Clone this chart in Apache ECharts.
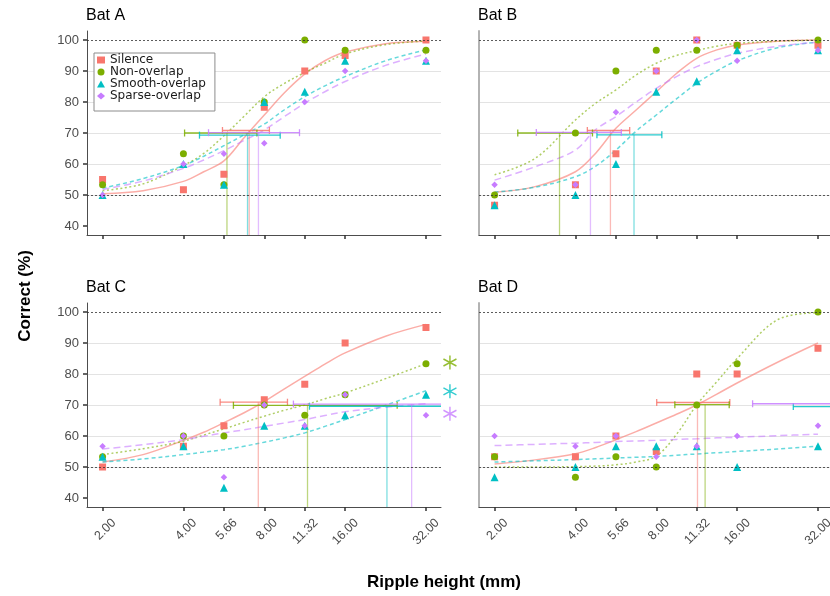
<!DOCTYPE html>
<html><head><meta charset="utf-8">
<script src="https://cdn.jsdelivr.net/npm/echarts@6.0.0/dist/echarts.min.js"></script>
<style>html,body{margin:0;padding:0;background:#fff}#c{width:830px;height:596px}</style>
</head><body><div id="c"></div>
<script>
// ---------- DATA ----------
const conditions = ['Silence', 'Non-overlap', 'Smooth-overlap', 'Sparse-overlap'];
const panels = ['Bat A', 'Bat B', 'Bat C', 'Bat D'];
const heights = [2, 4, 5.66, 8, 11.32, 16, 32];
const tickLabels = ['2.00', '4.00', '5.66', '8.00', '11.32', '16.00', '32.00'];
const yTicks = [40, 50, 60, 70, 80, 90, 100];
const curveX = [2, 2.83, 4, 4.76, 5.66, 6.73, 8, 9.51, 11.31, 13.45, 16, 22.63, 32];

// Bat A observed (% correct)
const A_silence = [55, 51.7, 56.7, 78.3, 90, 95, 100];
const A_nonOverlap = [53.3, 63.3, 53.3, 80, 100, 96.7, 96.7];
const A_smooth = [50, 60, 53.3, 80, 83.3, 93.3, 93.3];
const A_sparse = [50, 60, 63.3, 66.7, 80, 90, 93.3];
// Bat A fitted curves (at curveX)
const A_fitSilence = [50.4, 51.4, 54.4, 57.5, 61, 68.5, 75.8, 83, 89, 93.3, 96.1, 98.8, 99.6];
const A_fitNonOverlap = [51.4, 53.6, 59.5, 63.4, 69.1, 75.4, 81.7, 86, 89.5, 92.5, 95.5, 98.5, 99.7];
const A_fitSmooth = [52.2, 55.3, 59.5, 62.5, 65.9, 69.4, 72.9, 77.5, 81.7, 85.2, 88.2, 93.3, 96.8];
const A_fitSparse = [51.8, 54.5, 58.6, 61.3, 64.3, 67.6, 71, 75.3, 79.6, 83.3, 86.6, 91.8, 95.5];
// Bat A thresholds: [CI low, CI high, level, threshold]
const A_thrSilence = [5.59, 8.36, 70.8, 7.03];
const A_thrNonOverlap = [4.04, 7.51, 70, 5.81];
const A_thrSmooth = [4.59, 9.17, 69.3, 6.93];
const A_thrSparse = [4.96, 10.82, 70.1, 7.61];

// Bat B
const B_silence = [46.7, 53.3, 63.3, 90, 100, 98.3, 98.3];
const B_nonOverlap = [50, 70, 90, 96.7, 96.7, 98.3, 100];
const B_smooth = [46.7, 50, 60, 83.3, 86.7, 96.7, 96.7];
const B_sparse = [53.3, 53.3, 76.7, 90, 100, 93.3, 96.7];
const B_fitSilence = [50.9, 52.7, 57.5, 63.5, 71.5, 77.4, 83.3, 89.2, 94.1, 96.8, 98.4, 99.6, 100];
const B_fitNonOverlap = [56.5, 61.8, 74.2, 79.6, 83.9, 88.7, 92.5, 95, 96.6, 98, 98.9, 99.6, 100];
const B_fitSmooth = [50.9, 52.5, 55.9, 59.3, 64.5, 70.6, 75.8, 81, 86, 90, 93.3, 97.5, 99.3];
const B_fitSparse = [54.8, 59.1, 64.5, 71.1, 75.3, 80, 84.4, 88.2, 91.4, 93.8, 95.7, 98, 99.3];
const B_thrSilence = [4.43, 6.37, 70.8, 5.40];
const B_thrNonOverlap = [2.44, 4.63, 70, 3.49];
const B_thrSmooth = [4.81, 8.39, 69.4, 6.61];
const B_thrSparse = [2.86, 5.93, 70.2, 4.55];

// Bat C
const C_silence = [50, 56.7, 63.3, 71.7, 76.7, 90, 95];
const C_nonOverlap = [53.3, 60, 60, 70, 66.7, 73.3, 83.3];
const C_smooth = [53.3, 56.7, 43.3, 63.3, 63.3, 66.7, 73.3];
const C_sparse = [56.7, 60, 46.7, 70, 63.3, 73.3, 66.7];
const C_fitSilence = [51.6, 54, 58.6, 61.2, 64.3, 67.5, 71.1, 75.2, 79.2, 83.2, 86.8, 92.2, 96];
const C_fitNonOverlap = [54, 55.9, 58.3, 60.3, 62.3, 64.4, 66.4, 68.3, 70, 72, 73.9, 78.5, 83.3];
const C_fitSmooth = [51.6, 52.6, 54, 54.8, 55.6, 56.7, 58, 59.4, 61, 63.1, 65.3, 69.9, 74.6];
const C_fitSparse = [55.8, 57.2, 58.8, 59.9, 61, 62, 63.1, 64.2, 65.3, 66.6, 67.8, 69.3, 70.4];
const C_thrSilence = [5.48, 9.76, 70.9, 7.6];
const C_thrNonOverlap = [6.14, 25.0, 69.9, 11.59];
const C_thrSmooth = [11.79, null, 69.6, 22.9];
const C_thrSparse = [10.27, null, 70.3, 28.3];
// significance asterisks (Bat C, right margin)
const C_asteriskX = 39.3;
const C_asteriskY = [83.7, 74.4, 67.2];   // Non-overlap, Smooth-overlap, Sparse-overlap

// Bat D
const D_silence = [53.3, 53.3, 60, 55, 80, 80, 88.3];
const D_nonOverlap = [53.3, 46.7, 53.3, 50, 70, 83.3, 100];
const D_smooth = [46.7, 50, 56.7, 56.7, 56.7, 50, 56.7];
const D_sparse = [60, 56.7, 60, 53.3, 56.7, 60, 63.3];
const D_fitSilence = [51, 52.3, 54.3, 56.3, 58.8, 61.4, 64.2, 67, 70, 73.5, 77.1, 83.8, 90];
const D_fitNonOverlap = [50, 50, 50.1, 50.3, 50.7, 51.6, 53.5, 60.5, 70, 77.5, 85, 97.5, 99.8];
const D_fitSmooth = [51.6, 52, 52.4, 52.65, 52.9, 53.15, 53.4, 53.8, 54.2, 54.6, 55, 55.8, 56.7];
const D_fitSparse = [56.9, 57.3, 57.7, 57.9, 58.2, 58.4, 58.6, 58.9, 59.1, 59.4, 59.6, 60.1, 60.6];
const D_thrSilence = [8.03, 15.03, 70.8, 11.39];
const D_thrNonOverlap = [9.38, 14.95, 70.1, 12.16];
const D_thrSmooth = [25.9, null, 69.5, null];
const D_thrSparse = [18.27, null, 70.4, null];

// ---------- STYLE ----------
const colors = ['#F8766D', '#7CAE00', '#00BFC4', '#C77CFF'];
const symbols = ['rect', 'circle', 'triangle', 'diamond'];
const symbolSizes = [7, 7, 8, 6.5];
const dashes = ['solid', [2, 2.5], [4, 3], [7, 4]];
const FONT = '"Liberation Sans", Arial, sans-serif';

const pointSets = [
  [A_silence, A_nonOverlap, A_smooth, A_sparse],
  [B_silence, B_nonOverlap, B_smooth, B_sparse],
  [C_silence, C_nonOverlap, C_smooth, C_sparse],
  [D_silence, D_nonOverlap, D_smooth, D_sparse]
];
const fitSets = [
  [A_fitSilence, A_fitNonOverlap, A_fitSmooth, A_fitSparse],
  [B_fitSilence, B_fitNonOverlap, B_fitSmooth, B_fitSparse],
  [C_fitSilence, C_fitNonOverlap, C_fitSmooth, C_fitSparse],
  [D_fitSilence, D_fitNonOverlap, D_fitSmooth, D_fitSparse]
];
const thrSets = [
  [A_thrSilence, A_thrNonOverlap, A_thrSmooth, A_thrSparse],
  [B_thrSilence, B_thrNonOverlap, B_thrSmooth, B_thrSparse],
  [C_thrSilence, C_thrNonOverlap, C_thrSmooth, C_thrSparse],
  [D_thrSilence, D_thrNonOverlap, D_thrSmooth, D_thrSparse]
];

const gridPos = [
  {left: 87, top: 31}, {left: 479, top: 31},
  {left: 87, top: 303}, {left: 479, top: 303}
];
const GW = 354, GH = 204;

function fmtTick(v) {
  let best = 0, bd = Infinity;
  heights.forEach((h, i) => { const d = Math.abs(Math.log(v) - Math.log(h)); if (d < bd) { bd = d; best = i; } });
  // leading empty line pushes the rotated label down-right, like ggplot's hjust/vjust = 1
  return '\n' + tickLabels[best];
}

function isNum(v) { return typeof v === 'number' && isFinite(v) && v > 0; }

function renderErr(params, api) {
  const cs = params.coordSys;
  const L = cs.x, R = cs.x + cs.width, B = cs.y + cs.height;
  const lo = api.value(0), hi = api.value(1), yv = api.value(2), thr = api.value(3);
  const color = api.visual('color');
  const pLo = api.coord([lo, yv]);
  const yPix = pLo[1];
  const xLo = pLo[0];
  const hasHi = isNum(hi);
  const xHi = hasHi ? api.coord([hi, yv])[0] : R;
  const cl = v => Math.max(L, Math.min(R, v));
  const cap = 3.5;
  const st = {stroke: color, lineWidth: 1.3, opacity: 0.85};
  const children = [];
  if (isNum(thr)) {
    const xt = api.coord([thr, yv])[0];
    if (xt >= L && xt <= R) {
      children.push({type: 'line', shape: {x1: xt, y1: yPix, x2: xt, y2: B},
        style: {stroke: color, lineWidth: 1.3, opacity: 0.5}});
    }
  }
  children.push({type: 'line', shape: {x1: cl(xLo), y1: yPix, x2: cl(xHi), y2: yPix}, style: st});
  if (xLo >= L && xLo <= R) children.push({type: 'line', shape: {x1: xLo, y1: yPix - cap, x2: xLo, y2: yPix + cap}, style: st});
  if (hasHi && xHi >= L && xHi <= R) children.push({type: 'line', shape: {x1: xHi, y1: yPix - cap, x2: xHi, y2: yPix + cap}, style: st});
  return {type: 'group', children: children};
}

const grids = [], xAxes = [], yAxes = [], series = [], titles = [];
for (let p = 0; p < 4; p++) {
  const leftCol = (p % 2 === 0);
  grids.push({left: gridPos[p].left, top: gridPos[p].top, width: GW, height: GH,
    containLabel: false, outerBoundsMode: 'none'});
  titles.push({text: panels[p], left: gridPos[p].left - 1, top: gridPos[p].top - 23, padding: 0,
    textStyle: {fontSize: 16, fontWeight: 'normal', color: '#000', fontFamily: FONT}});
  xAxes.push({
    gridIndex: p, type: 'log', logBase: 2, min: 1.75, max: 36.4,
    axisLine: {show: true, onZero: false, lineStyle: {color: '#4d4d4d', width: 1}},
    axisTick: {show: true, customValues: heights, length: 4, lineStyle: {color: '#333', width: 1.5}},
    axisLabel: {show: p >= 2, customValues: heights, rotate: 45, formatter: fmtTick, fontSize: 12.5,
      lineHeight: 32, color: '#4d4d4d', fontFamily: FONT, margin: 2.5},
    splitLine: {show: false}, minorTick: {show: false}, minorSplitLine: {show: false}
  });
  yAxes.push({
    gridIndex: p, type: 'value', min: 37.1, max: 102.9,
    axisLine: {show: true, lineStyle: {color: leftCol ? '#4d4d4d' : '#b3b3b3', width: leftCol ? 1 : 2}},
    axisTick: {show: leftCol, customValues: yTicks, length: 4, lineStyle: {color: '#333', width: 1.5}},
    axisLabel: {show: leftCol, customValues: yTicks, fontSize: 13, color: '#4d4d4d', fontFamily: FONT, margin: 8},
    splitLine: {show: true, showMinLine: false, showMaxLine: false, lineStyle: {color: '#e3e3e3', width: 1.2}}
  });
  // fitted curves
  for (let k = 0; k < 4; k++) {
    const s = {
      name: conditions[k] + ' fit ' + p, type: 'line', xAxisIndex: p, yAxisIndex: p,
      data: curveX.map((x, i) => [x, fitSets[p][k][i]]),
      smooth: 0.35, showSymbol: false, silent: true, z: 2,
      lineStyle: {color: colors[k], width: 1.5, type: dashes[k], opacity: 0.6}
    };
    if (k === 0) {
      s.markLine = {silent: true, symbol: 'none', label: {show: false},
        lineStyle: {color: '#333', type: [2, 2], width: 0.8},
        data: [{yAxis: 50}, {yAxis: 100}]};
    }
    series.push(s);
  }
  // threshold bars
  series.push({
    name: 'thr ' + p, type: 'custom', xAxisIndex: p, yAxisIndex: p, z: 3, silent: true,
    renderItem: renderErr, encode: {x: [0, 1, 3], y: 2},
    data: thrSets[p].map((t, k) => ({value: t.map(v => v == null ? '-' : v), itemStyle: {color: colors[k]}}))
  });
}
// observed points (drawn above lines)
for (let p = 0; p < 4; p++) {
  for (let k = 0; k < 4; k++) {
    series.push({
      name: conditions[k], type: 'scatter', xAxisIndex: p, yAxisIndex: p, z: 4,
      symbol: symbols[k], symbolSize: symbolSizes[k],
      itemStyle: {color: colors[k], opacity: 1},
      data: heights.map((h, i) => [h, pointSets[p][k][i]])
    });
  }
}
// asterisks for Bat C
series.push({
  name: 'sig', type: 'scatter', xAxisIndex: 2, yAxisIndex: 2, z: 5, clip: false, silent: true,
  symbol: 'path://M6,0 L6,12 M0.8,3 L11.2,9 M0.8,9 L11.2,3', symbolSize: [13, 14],
  data: C_asteriskY.map((y, i) => ({value: [C_asteriskX, y],
    itemStyle: {color: 'rgba(0,0,0,0)', borderColor: colors[i + 1], borderWidth: 1.5}}))
});

const option = {
  animation: false,
  backgroundColor: '#fff',
  textStyle: {fontFamily: FONT},
  title: titles,
  grid: grids,
  xAxis: xAxes,
  yAxis: yAxes,
  legend: {
    data: conditions, left: 94, top: 53, orient: 'vertical', itemGap: 0,
    itemWidth: 8, itemHeight: 7, padding: [1, 9, 9, 3], borderColor: '#8c8c8c', borderWidth: 1,
    backgroundColor: '#fff', selectedMode: false, z: 10,
    textStyle: {fontSize: 12, color: '#1a1a1a', fontFamily: '"DejaVu Sans", sans-serif', lineHeight: 11.8}
  },
  graphic: [
    {type: 'text', x: 25, y: 296, rotation: Math.PI / 2, silent: true,
      style: {text: 'Correct (%)', fill: '#000', font: 'bold 17px ' + FONT, textAlign: 'center', textVerticalAlign: 'middle'}},
    {type: 'text', x: 444, y: 582, silent: true,
      style: {text: 'Ripple height (mm)', fill: '#000', font: 'bold 17px ' + FONT, textAlign: 'center', textVerticalAlign: 'middle'}}
  ],
  series: series
};
const chart = echarts.init(document.getElementById('c'), null, {renderer: 'canvas'});
chart.setOption(option);
</script></body></html>
